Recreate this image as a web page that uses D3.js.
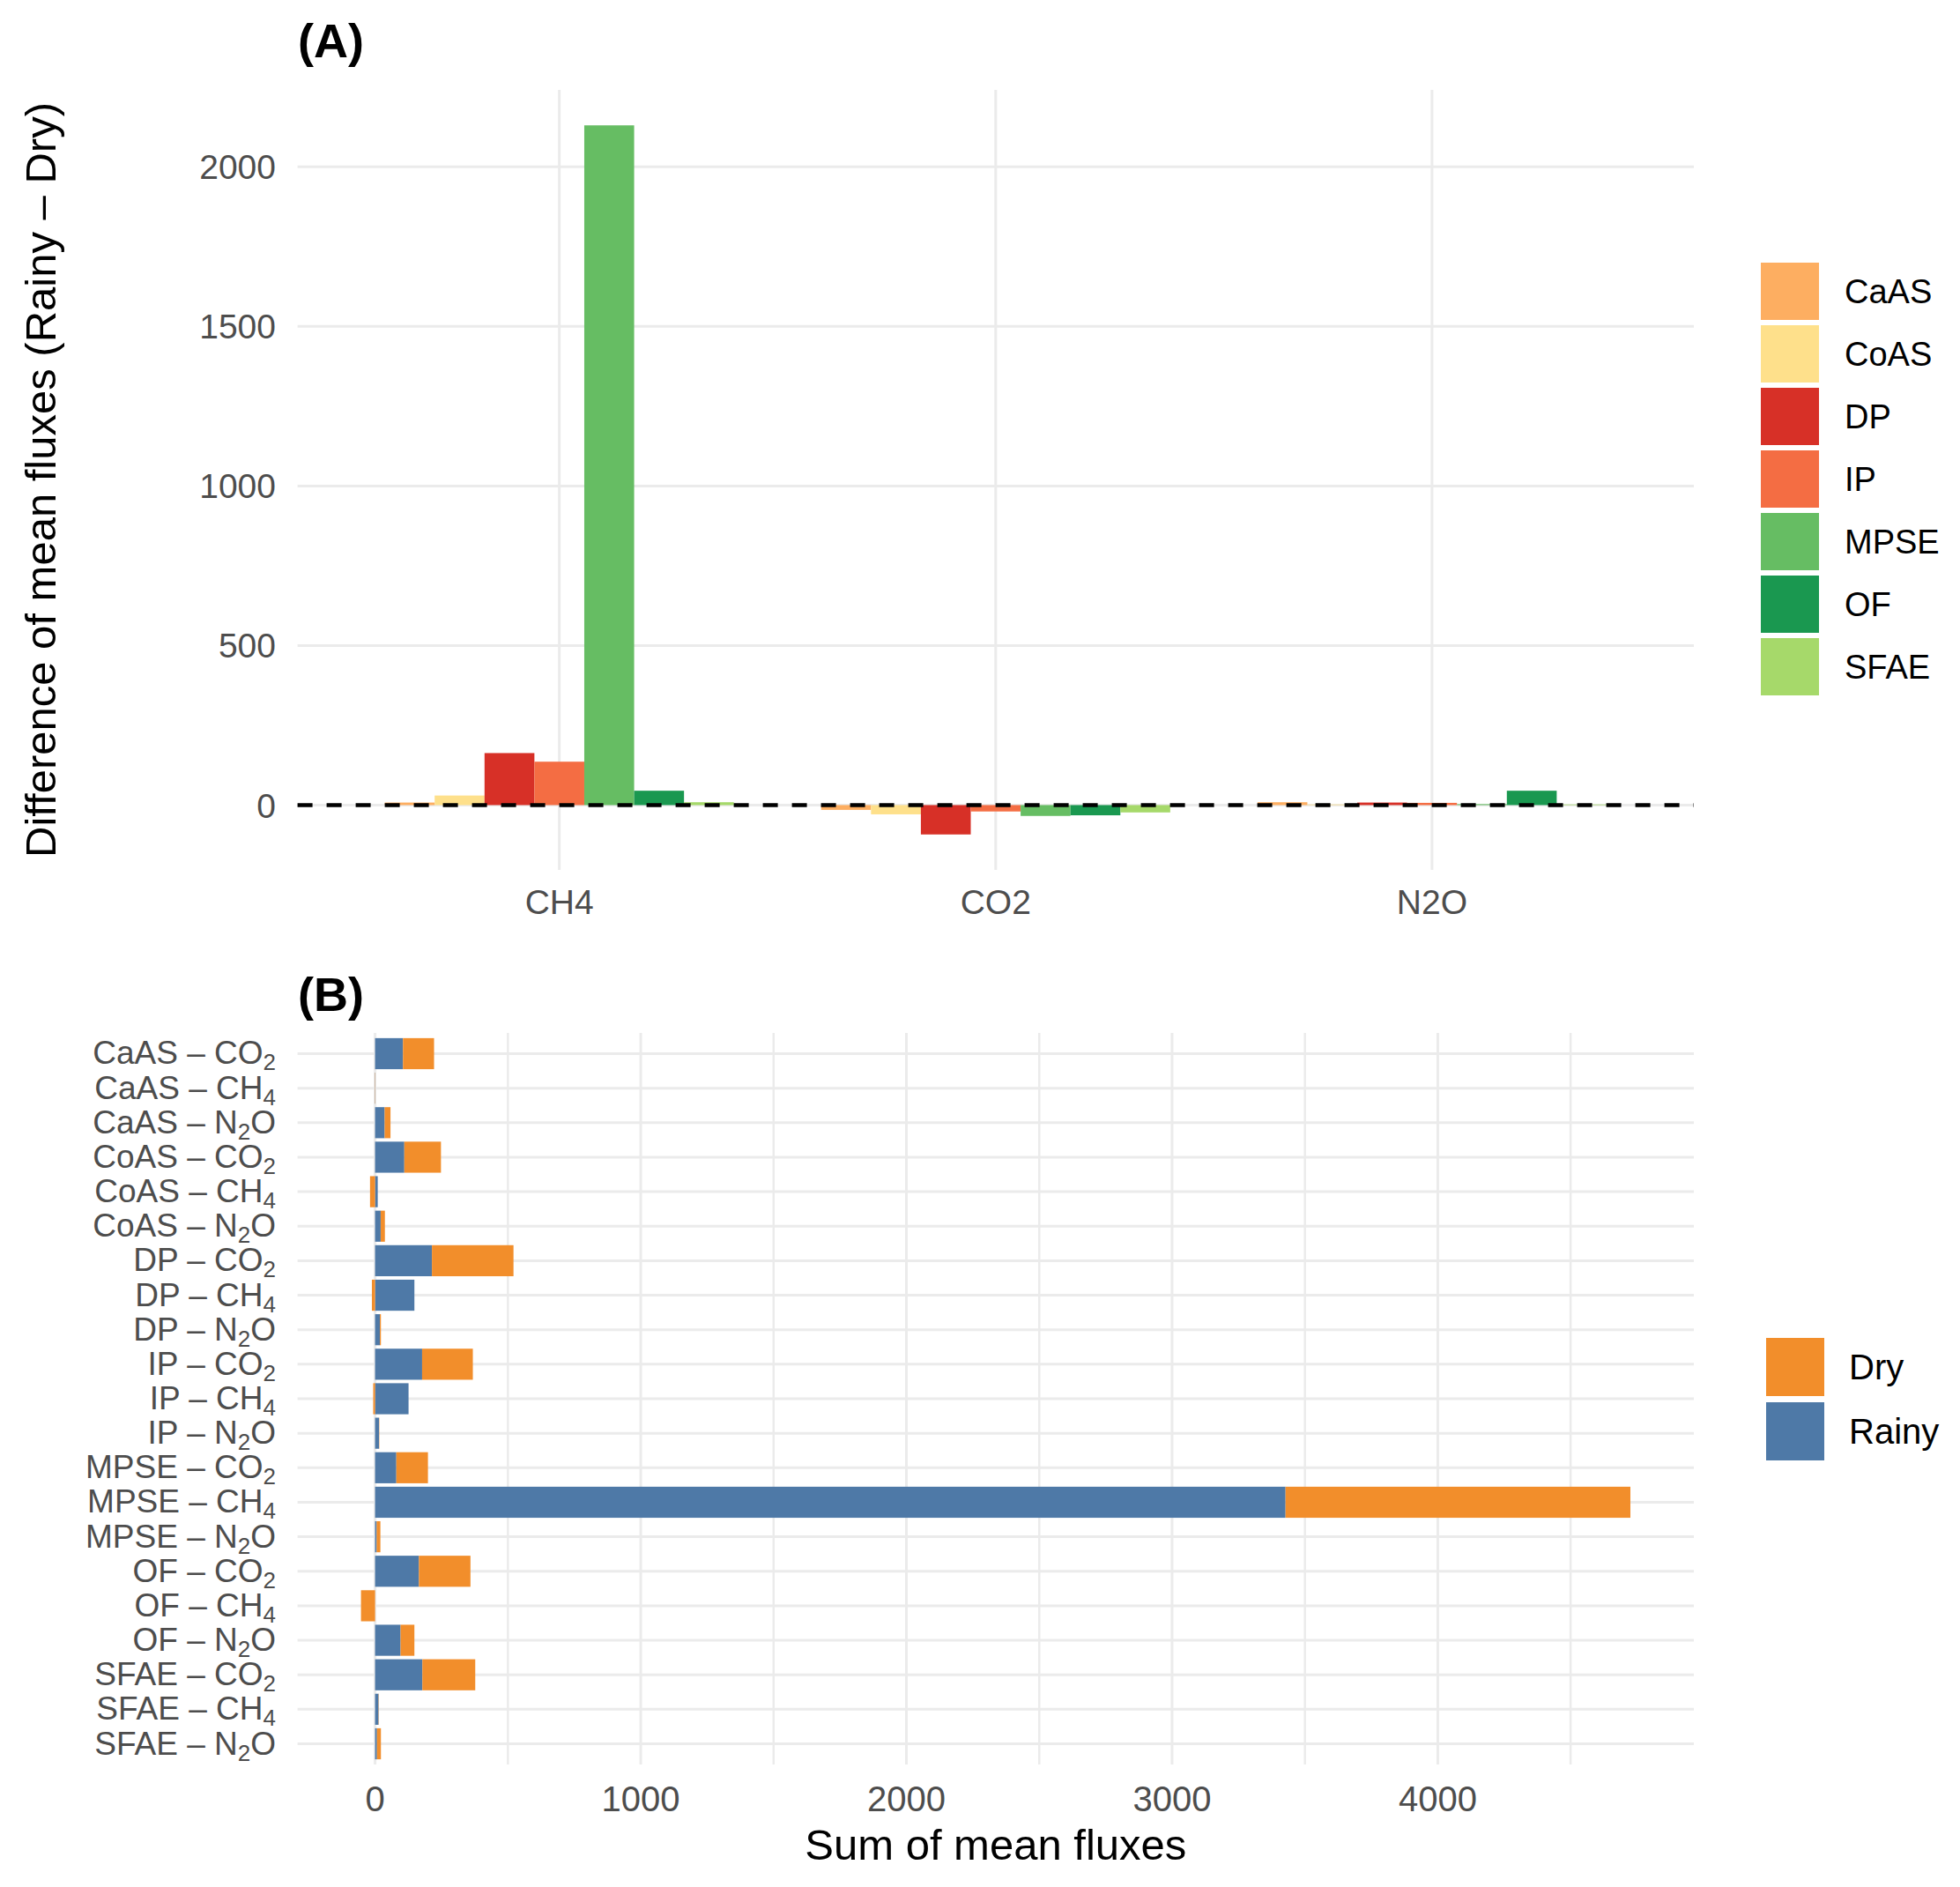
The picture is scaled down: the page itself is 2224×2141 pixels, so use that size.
<!DOCTYPE html>
<html>
<head>
<meta charset="utf-8">
<script src="https://cdn.jsdelivr.net/npm/d3@7"></script>
<style>
  html, body { margin: 0; padding: 0; background: #ffffff; }
  svg { display: block; font-family: "Liberation Sans", Arial, sans-serif; }
</style>
</head>
<body>
<svg id="chart" width="2224" height="2141"></svg>
<script>
// ---------- DATA ----------
// Panel A: difference of mean fluxes (Rainy - Dry)
const gases = ["CH4", "CO2", "N2O"];
const systems = ["CaAS", "CoAS", "DP", "IP", "MPSE", "OF", "SFAE"];
const diffCH4 = [8, 30, 163, 136, 2130, 45, 9];
const diffCO2 = [-15, -29, -92, -20, -34, -32, -23];
const diffN2O = [9, 2, 8, 7, 3, 45, 2];
const yTicksA = [0, 500, 1000, 1500, 2000];
const systemColors = ["#FDAE61", "#FEE08B", "#D73027", "#F46D43", "#66BD63", "#1A9850", "#A6D96A"];

// Panel B: sum of mean fluxes, stacked Rainy + Dry
const gasOrderB = ["CO2", "CH4", "N2O"];
// rows: CaAS-CO2, CaAS-CH4, CaAS-N2O, CoAS-CO2, ... SFAE-N2O
const rainyValues = [105, 1, 36, 110, 10, 21, 214, 148, 18, 177, 126, 15, 80, 3427, 6, 165, 0, 96, 178, 13, 7];
const dryValues   = [117, -1, 22, 138, -19, 16, 307, -12, 4, 191, -7, 1, 119, 1298, 14, 194, -53, 52, 199, 1, 15];
const seasons = ["Dry", "Rainy"];
const seasonColors = ["#F28E2B", "#4E79A7"];
const xTicksB = [0, 1000, 2000, 3000, 4000];
const xMinorB = [500, 1500, 2500, 3500, 4500];
const gasLabelParts = { CO2: ["CO", "2", ""], CH4: ["CH", "4", ""], N2O: ["N", "2", "O"] };

// ---------- SETUP ----------
const svg = d3.select("#chart");
const GRID = "#EBEBEB";
const TICK_COL = "#4D4D4D";
const panelLeft = 337.6, panelRight = 1922;

function expand(lo, hi, m) { const d = (hi - lo) * m; return [lo - d, hi + d]; }

// ---------- PANEL A ----------
const aTop = 102, aBottom = 987;
const diffByGas = { CH4: diffCH4, CO2: diffCO2, N2O: diffN2O };
const dataA = [];
gases.forEach(g => systems.forEach((s, i) => dataA.push({ gas: g, sys: s, v: diffByGas[g][i], color: systemColors[i] })));
const allA = dataA.map(d => d.v).concat([0]);
const yA = d3.scaleLinear().domain(expand(d3.min(allA), d3.max(allA), 0.05)).range([aBottom, aTop]);
const xA = d3.scalePoint().domain(gases).range([panelLeft, panelRight]).padding(0.6);
const stepA = xA.step();
const inner = d3.scaleBand().domain(systems).range([-0.4 * stepA, 0.4 * stepA]);

const gA = svg.append("g");
// gridlines
gA.selectAll(".hgrid").data(yTicksA).join("line")
  .attr("x1", panelLeft).attr("x2", panelRight)
  .attr("y1", d => yA(d)).attr("y2", d => yA(d))
  .attr("stroke", GRID).attr("stroke-width", 3);
gA.selectAll(".vgrid").data(gases).join("line")
  .attr("x1", d => xA(d)).attr("x2", d => xA(d))
  .attr("y1", aTop).attr("y2", aBottom)
  .attr("stroke", GRID).attr("stroke-width", 3);
// bars
gA.selectAll(".barA").data(dataA).join("rect")
  .attr("x", d => xA(d.gas) + inner(d.sys))
  .attr("width", inner.bandwidth())
  .attr("y", d => yA(Math.max(0, d.v)))
  .attr("height", d => Math.abs(yA(d.v) - yA(0)))
  .attr("fill", d => d.color);
// zero dashed line
gA.append("line")
  .attr("x1", panelLeft).attr("x2", panelRight)
  .attr("y1", yA(0)).attr("y2", yA(0))
  .attr("stroke", "#000").attr("stroke-width", 4.5).attr("stroke-dasharray", "17,16");
// y tick labels
gA.selectAll(".ytA").data(yTicksA).join("text")
  .attr("x", 313).attr("y", d => yA(d)).attr("dy", "0.36em")
  .attr("text-anchor", "end").attr("font-size", 39).attr("fill", TICK_COL)
  .text(d => d);
// x tick labels
gA.selectAll(".xtA").data(gases).join("text")
  .attr("x", d => xA(d)).attr("y", 1037)
  .attr("text-anchor", "middle").attr("font-size", 39).attr("fill", TICK_COL)
  .text(d => d);
// y axis title
svg.append("text")
  .attr("transform", `translate(63,${(aTop + aBottom) / 2}) rotate(-90)`)
  .attr("text-anchor", "middle").attr("font-size", 49).attr("fill", "#000")
  .text("Difference of mean fluxes (Rainy \u2013 Dry)");
// panel tag
svg.append("text").attr("x", 338).attr("y", 65)
  .attr("font-size", 54).attr("font-weight", "bold").attr("fill", "#000").text("(A)");
// legend A
const legA = svg.append("g");
systems.forEach((s, i) => {
  const y0 = 298 + i * 71;
  legA.append("rect").attr("x", 1998).attr("y", y0).attr("width", 66).attr("height", 65).attr("fill", systemColors[i]);
  legA.append("text").attr("x", 2093).attr("y", y0 + 32.5).attr("dy", "0.36em")
    .attr("font-size", 38).attr("fill", "#000").text(s);
});

// ---------- PANEL B ----------
const bTop = 1172, bBottom = 2002;
const rows = [];
systems.forEach(s => gasOrderB.forEach(g => rows.push({ sys: s, gas: g })));
rows.forEach((r, i) => { r.id = r.sys + "-" + r.gas; r.rainy = rainyValues[i]; r.dry = dryValues[i]; });

const posMax = d3.max(rows, r => Math.max(0, r.rainy) + Math.max(0, r.dry));
const negMin = d3.min(rows, r => Math.min(0, r.rainy) + Math.min(0, r.dry));
const xB = d3.scaleLinear().domain(expand(negMin, posMax, 0.05)).range([panelLeft, panelRight]);
const yB = d3.scalePoint().domain(rows.map(r => r.id)).range([bTop, bBottom]).padding(0.6);
const barH = 0.9 * yB.step();

const gB = svg.append("g");
gB.selectAll(".hgridB").data(rows).join("line")
  .attr("x1", panelLeft).attr("x2", panelRight)
  .attr("y1", d => yB(d.id)).attr("y2", d => yB(d.id))
  .attr("stroke", GRID).attr("stroke-width", 3);
gB.selectAll(".vminB").data(xMinorB).join("line")
  .attr("x1", d => xB(d)).attr("x2", d => xB(d))
  .attr("y1", bTop).attr("y2", bBottom)
  .attr("stroke", GRID).attr("stroke-width", 2.5);
gB.selectAll(".vgridB").data(xTicksB).join("line")
  .attr("x1", d => xB(d)).attr("x2", d => xB(d))
  .attr("y1", bTop).attr("y2", bBottom)
  .attr("stroke", GRID).attr("stroke-width", 3);

// stacked segments: Rainy at base, Dry stacked outward (pos and neg stacked separately)
const segs = [];
rows.forEach(r => {
  let pos = 0, neg = 0;
  [["Rainy", r.rainy], ["Dry", r.dry]].forEach(([season, v]) => {
    let a, b;
    if (v >= 0) { a = pos; b = pos + v; pos = b; } else { a = neg + v; b = neg; neg = a; }
    segs.push({ id: r.id, season, a, b });
  });
});
gB.selectAll(".barB").data(segs).join("rect")
  .attr("x", d => xB(d.a))
  .attr("width", d => Math.max(0, xB(d.b) - xB(d.a)))
  .attr("y", d => yB(d.id) - barH / 2)
  .attr("height", barH)
  .attr("fill", d => seasonColors[seasons.indexOf(d.season)]);

// y labels with subscripts
const ylab = gB.selectAll(".ylabB").data(rows).join("text")
  .attr("x", 313).attr("y", d => yB(d.id) + 12)
  .attr("text-anchor", "end").attr("font-size", 37).attr("fill", TICK_COL);
ylab.each(function(d) {
  const t = d3.select(this);
  const p = gasLabelParts[d.gas];
  t.append("tspan").text(d.sys + " \u2013 " + p[0]);
  t.append("tspan").attr("font-size", 26).attr("dy", 7).text(p[1]);
  if (p[2] !== "") t.append("tspan").attr("dy", -7).text(p[2]);
});

// x tick labels
gB.selectAll(".xtB").data(xTicksB).join("text")
  .attr("x", d => xB(d)).attr("y", 2055)
  .attr("text-anchor", "middle").attr("font-size", 40).attr("fill", TICK_COL)
  .text(d => d);
// x title
svg.append("text").attr("x", (panelLeft + panelRight) / 2).attr("y", 2110)
  .attr("text-anchor", "middle").attr("font-size", 49).attr("fill", "#000")
  .text("Sum of mean fluxes");
// panel tag
svg.append("text").attr("x", 338).attr("y", 1147)
  .attr("font-size", 54).attr("font-weight", "bold").attr("fill", "#000").text("(B)");
// legend B
const legB = svg.append("g");
seasons.forEach((s, i) => {
  const y0 = 1518 + i * 73;
  legB.append("rect").attr("x", 2004).attr("y", y0).attr("width", 66).attr("height", 66).attr("fill", seasonColors[i]);
  legB.append("text").attr("x", 2098).attr("y", y0 + 33).attr("dy", "0.36em")
    .attr("font-size", 40).attr("fill", "#000").text(s);
});
</script>
</body>
</html>
